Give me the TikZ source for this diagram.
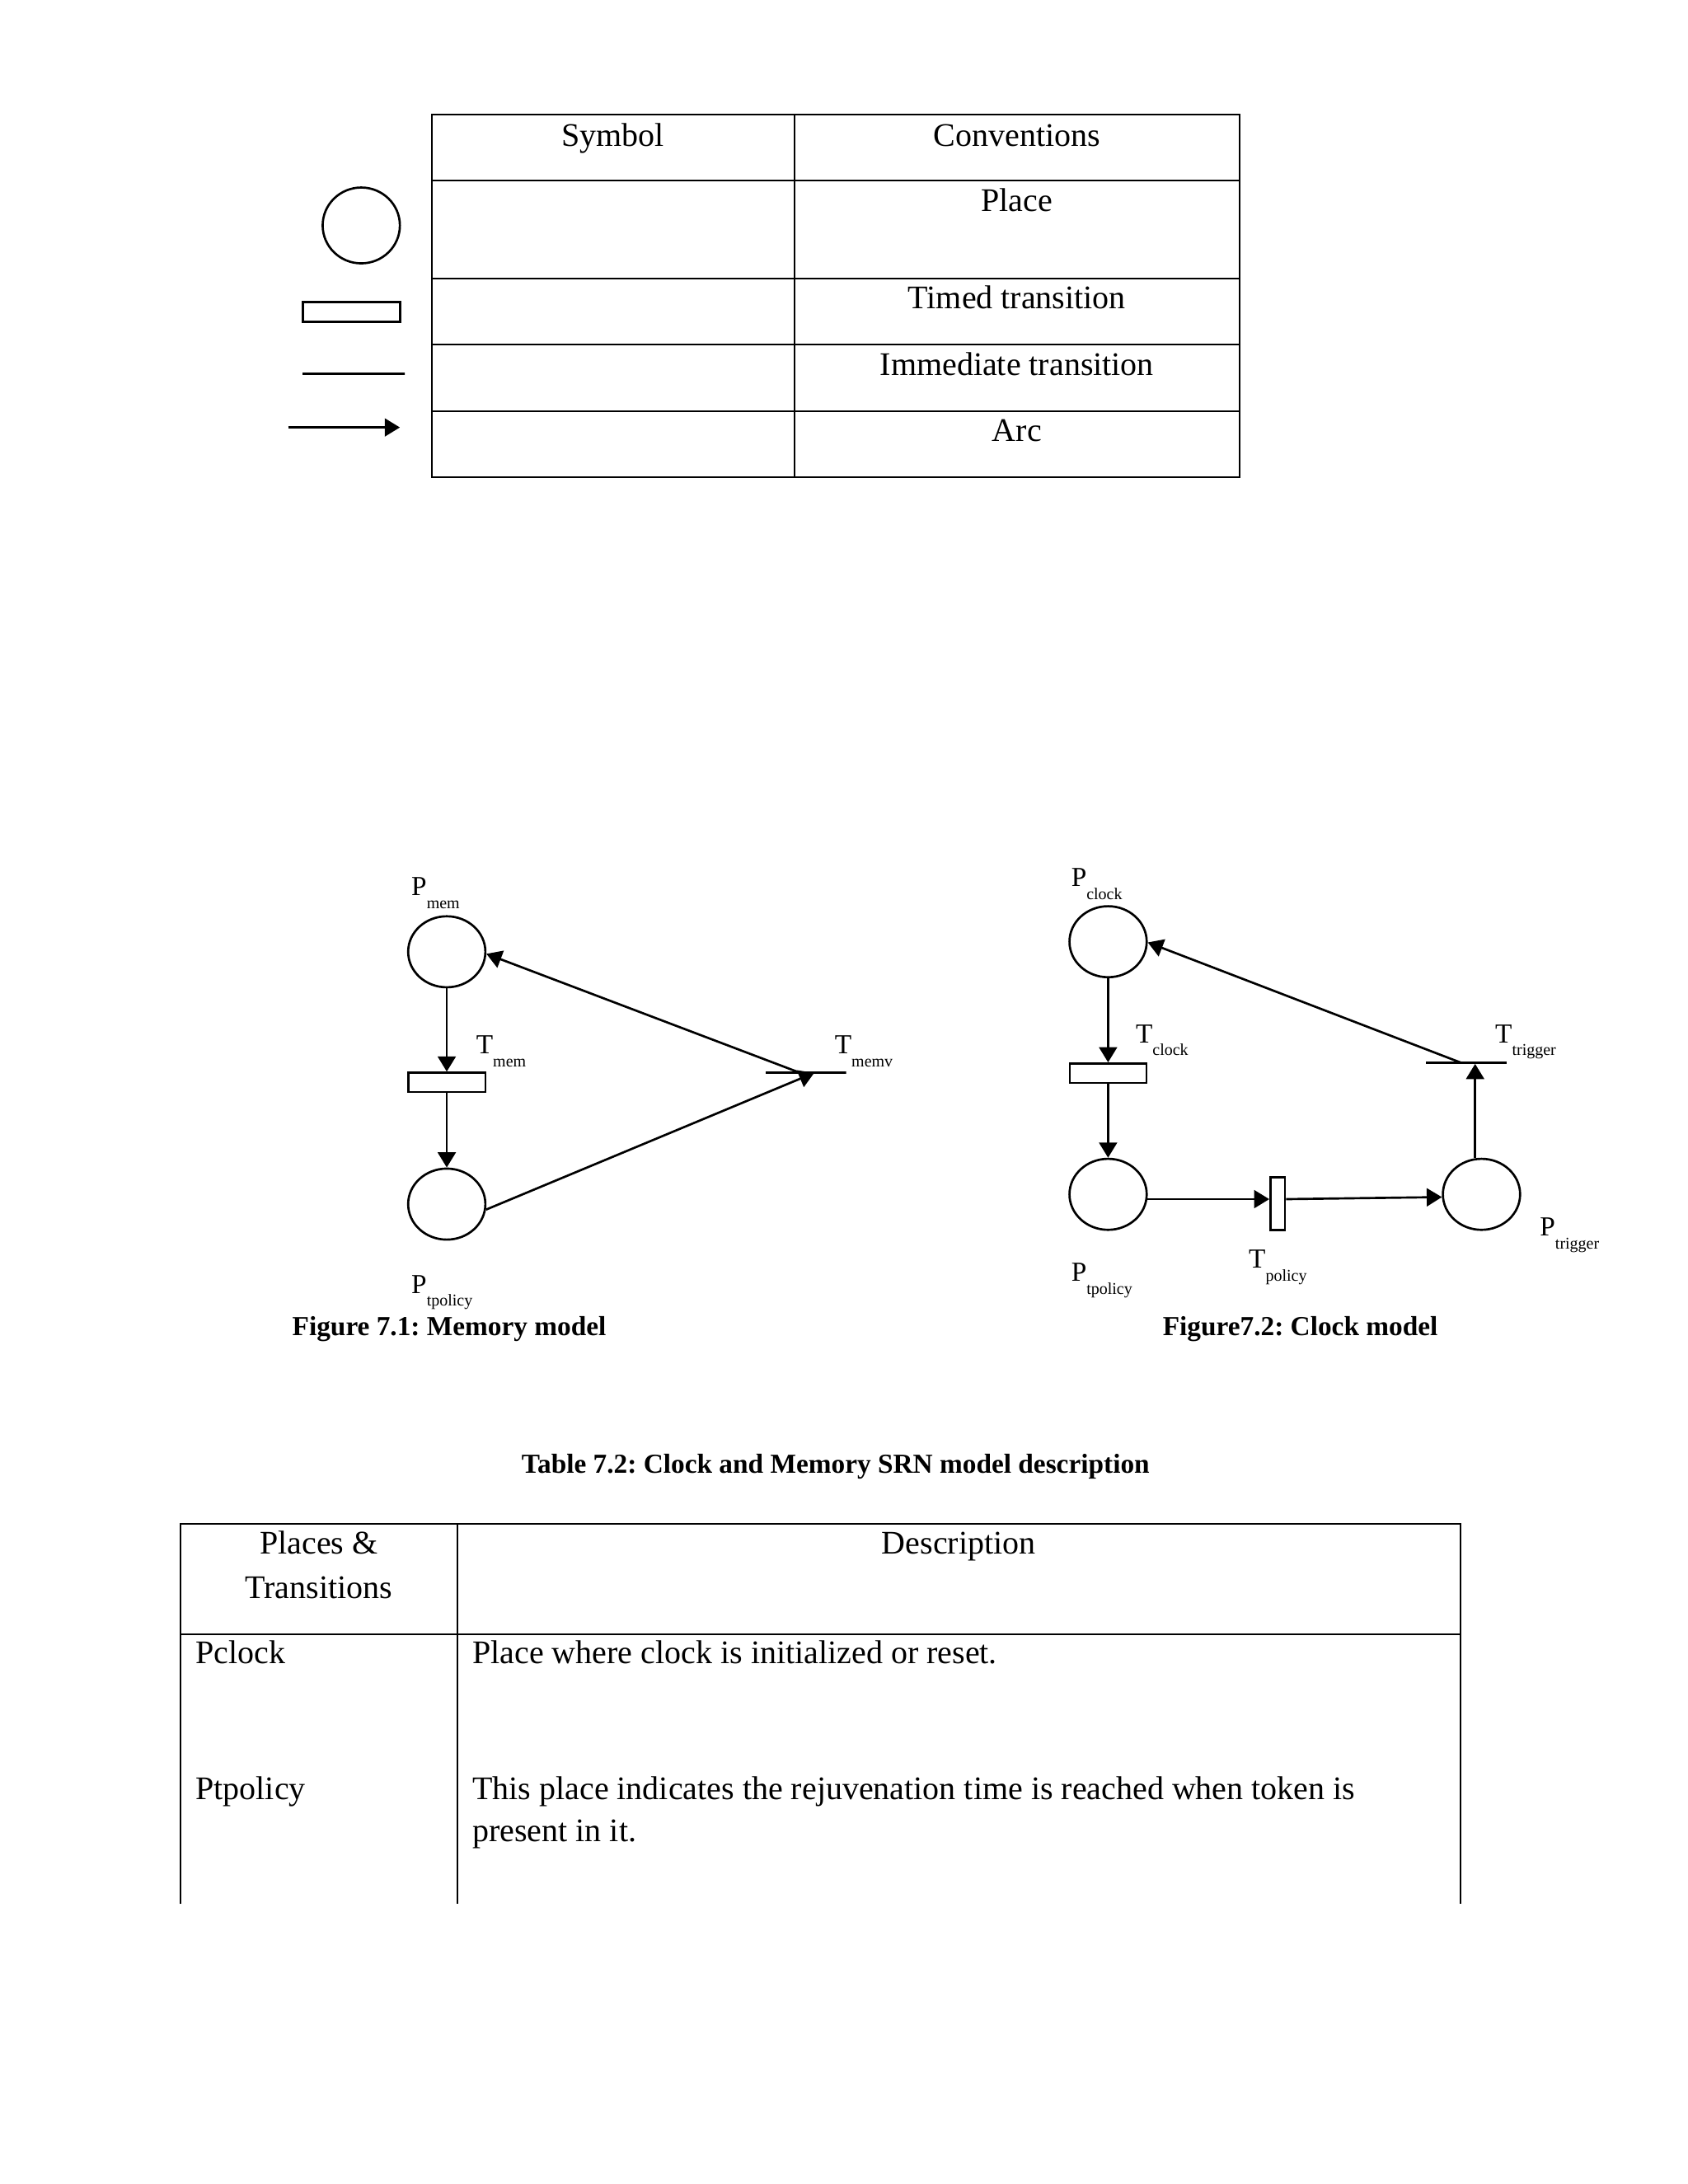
\documentclass[tikz,border=0pt]{standalone}
\usepackage{fontspec}
\setmainfont{Liberation Serif}
\frenchspacing
\usetikzlibrary{shapes.geometric,arrows.meta,calc}
\tikzset{
	plc/.style={ellipse,draw,line width=0.8pt,inner sep=0,minimum width=28bp,minimum height=25.75bp},
	ttrans/.style={rectangle,draw,line width=0.8pt,inner sep=0,minimum width=28bp,minimum height=7bp},
	itrans/.style={rectangle,draw,line width=0.8pt,inner sep=0,minimum width=29.2bp,minimum height=0pt},
	parc/.style={-{Triangle[length=5.5bp,width=6.5bp]},line width=0.8pt},
	tline/.style={line width=0.6pt},
	lbl/.style={anchor=base west,inner sep=0,font=\fontsize{10}{12}\selectfont},
	cell/.style={anchor=base,inner sep=0,font=\fontsize{12}{14}\selectfont},
	celll/.style={anchor=base west,inner sep=0,font=\fontsize{12}{14}\selectfont},
	capt/.style={anchor=base,inner sep=0,font=\fontsize{10}{12}\selectfont\bfseries}
}
\newcommand{\sublbl}[2]{#1\raisebox{-4.7bp}{\fontsize{6}{7}\selectfont #2}}

\begin{document}
\begin{tikzpicture}[x=0.5bp,y=-0.5bp]
		\fill[white] (0,0) rectangle (1224,1584);
		\useasboundingbox (0,0) rectangle (1224,1584);
		
		%%%% conventions table
		\draw[tline] (313,83) rectangle (899,346);
		\foreach \y in {131,202,250,298}
		\draw[tline] (313,\y) -- (899,\y);
		\draw[tline] (576,83) -- (576,346);
		\node[cell] (hsym) at (444.5,106) {Symbol};
		\node[cell] (hconv) at (737.5,106) {Conventions};
		\node[cell] (cplace) at (737.5,153.5) {Place};
		\node[cell] (ctimed) at (737.5,224) {Timed transition};
		\node[cell] (cimm) at (737.5,272) {Immediate transition};
		\node[cell] (carc) at (737.5,320) {Arc};
		
		%%%% symbols
		\node[plc,minimum height=27.5bp] (symp) at (262,163.5) {};
		\node[ttrans,minimum width=35.25bp,minimum height=7.25bp] (symt) at (254.75,226.25) {};
		\node[itrans,minimum width=37bp] (symi) at (256.5,271) {};
		\coordinate (arcA) at (209,310);
		\coordinate (arcB) at (290,310);
		\draw[parc] (arcA) -- (arcB);
		
		%%%% memory model
		\node[plc] (Pmem) at (324,690.3) {};
		\node[ttrans] (Tmem) at (324,785) {};
		\node[plc] (Ptp1) at (324,873.3) {};
		\node[itrans] (Tmemv) at (584.5,778.1) {};
		\node[lbl] (lPmem) at (298,649.6) {\sublbl{P}{mem}};
		\node[lbl] (lTmem) at (345,764.2) {\sublbl{T}{mem}};
		\node[lbl] (lPtp1) at (298,937.9) {\sublbl{P}{tpolicy}};
		\node[lbl] (lTmemv) at (605,764.2) {\sublbl{T}{memv}};
		
		\draw[parc] (Pmem) -- (Tmem);
		\draw[parc] (Tmem) -- (Ptp1);
		\draw[parc] (Ptp1.-8) -- ($(Tmemv.west)!0.6!(Tmemv.east)$);
		\draw[parc] ($(Tmemv.west)!0.43!(Tmemv.east)$) -- (Pmem.-3);
		
		\node[capt] (cap1) at (325.8,968.4) {Figure 7.1: Memory model};
		
		%%%% clock model
		\node[plc] (Pclk) at (803.6,683) {};
		\node[ttrans,minimum width=27.75bp,minimum height=7.1bp] (Tclk) at (803.6,778.4) {};
		\node[plc] (Ptp2) at (803.6,866.2) {};
		\node[ttrans,minimum width=5.3bp,minimum height=19.1bp] (Tpol) at (926.6,872.9) {};
		\node[plc] (Ptrig) at (1074.4,866.2) {};
		\node[itrans] (Ttrig) at (1063.3,770.8) {};
		\node[lbl] (lPclk) at (776.5,642.8) {\sublbl{P}{clock}};
		\node[lbl] (lTclk) at (823.3,756.2) {\sublbl{T}{clock}};
		\node[lbl] (lPtp2) at (776.5,929.4) {\sublbl{P}{tpolicy}};
		\node[lbl] (lTpol) at (905.3,919.6) {\sublbl{T}{policy}};
		\node[lbl] (lPtrig) at (1116.4,896.4) {\sublbl{P}{trigger}};
		\node[lbl] (lTtrig) at (1084,756.2) {\sublbl{T}{trigger}};
		
		\draw[parc] (Pclk) -- (Tclk);
		\draw[parc] (Tclk) -- (Ptp2);
		\draw[parc] (Ptp2.-7) -- (Ptp2.-7 -| Tpol.west);
		\draw[parc] (Tpol.east |- Ptp2.-7) -- (Ptrig.184);
		\draw[parc] (Ptrig.100) -- (Ptrig.100 |- Ttrig.south);
		\draw[parc] ($(Ttrig.west)!0.44!(Ttrig.east)$) -- (Pclk.-1);
		
		\node[capt] (cap2) at (943,968.4) {Figure7.2: Clock model};
		
		%%%% description table
		\node[capt] (cap3) at (606,1068.3) {Table 7.2: Clock and Memory SRN model description};
		\draw[tline] (131,1381) -- (131,1105) -- (1059,1105) -- (1059,1381);
		\draw[tline] (131,1185.1) -- (1059,1185.1);
		\draw[tline] (331.5,1105) -- (331.5,1381);
		\node[cell] (hplaces) at (231.25,1127.2) {Places \&};
		\node[cell] (htrans) at (231.25,1159) {Transitions};
		\node[cell] (hdesc) at (695.25,1127.2) {Description};
		\node[celll] (rPclk) at (141.5,1206.6) {Pclock};
		\node[celll] (dPclk) at (342.3,1206.6) {Place where clock is initialized or reset.};
		\node[celll] (rPtp) at (141.5,1305.2) {Ptpolicy};
		\node[celll] (dPtp1) at (342.3,1305.2) {This place indicates the rejuvenation time is reached when token is};
		\node[celll] (dPtp2) at (342.3,1335.9) {present in it.};
	\end{tikzpicture}
\end{document}
